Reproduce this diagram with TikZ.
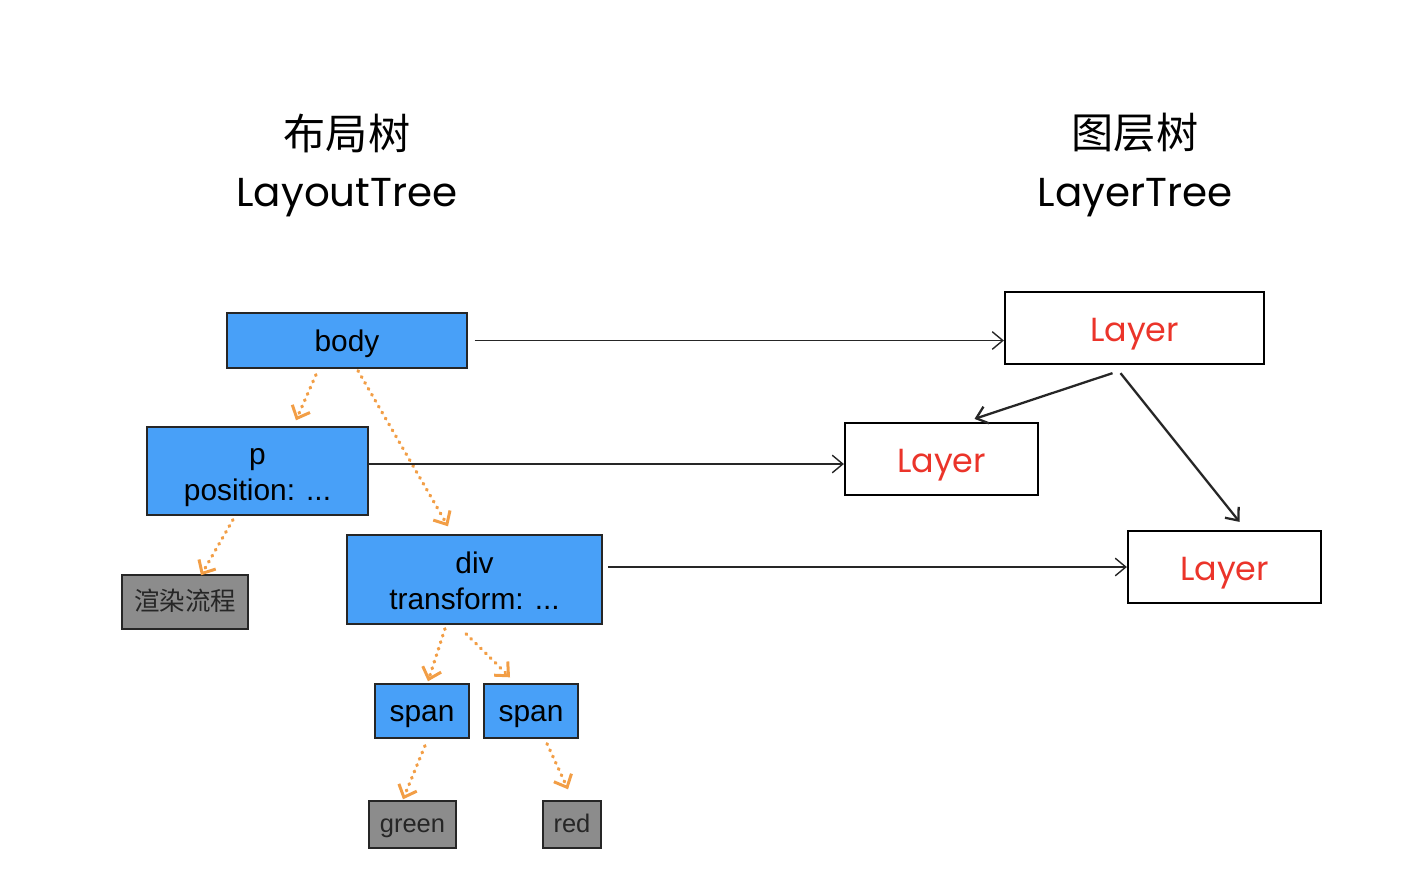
\documentclass[tikz,border=0pt]{standalone}
\usepackage{fontspec}
\setmainfont{Liberation Sans}
\newfontfamily\cjk{Noto Sans CJK SC}
\newfontfamily\hand{Poppins}
\usetikzlibrary{arrows.meta,calc}
\definecolor{tagblue}{RGB}{72,160,248}
\definecolor{leafgray}{RGB}{140,140,140}
\definecolor{linkorange}{RGB}{242,158,70}
\definecolor{layerred}{RGB}{235,52,42}
\begin{document}
\begin{tikzpicture}[
    x=0.02cm, y=-0.02cm,
    tag/.style={
        rectangle,
        inner sep=0pt,
        draw=black!85,
        line width=0.8pt,
        fill=tagblue,
        font=\fontsize{17}{20.4}\selectfont,
        align=center,
        text height=33.7pt,
        text depth=0pt
    },
    oneline/.style={
        text height=12.4pt,
        text depth=0pt
    },
    leaf/.style={
        rectangle,
        inner sep=0pt,
        draw=black!85,
        line width=0.8pt,
        fill=leafgray,
        text=black!85,
        font=\fontsize{14.5}{17}\selectfont,
        align=center,
        text height=9.6pt,
        text depth=0pt
    },
    layer/.style={
        rectangle,
        inner sep=0pt,
        minimum width=3.86cm,
        minimum height=1.44cm,
        draw=black,
        line width=1.3pt,
        fill=white,
        text=layerred,
        font=\hand\fontsize{19}{22}\selectfont,
        text height=15.4pt,
        text depth=0pt
    },
    title/.style={
        font=\hand\fontsize{23}{26}\selectfont,
        align=center
    },
    link/.style={
        -{Straight Barb[length=6pt,width=10pt]},
        line width=0.8pt,
        black!85
    },
    child/.style={
        -{Straight Barb[length=6pt,width=11pt,line width=1.7pt]},
        line width=1.9pt,
        linkorange,
        dash pattern=on 0.5pt off 3.4pt,
        line cap=round
    }
]
\useasboundingbox (0,0) rectangle (1422,870);

% Titles
\node[title] (ltitle) at (347,133) {\cjk\fontsize{24}{26}\selectfont 布局树};
\node[title] (lname) at (347,198) {LayoutTree};
\node[title] (rtitle) at (1135,133) {\cjk\fontsize{24}{26}\selectfont 图层树};
\node[title] (rname) at (1135,198) {LayerTree};

% Layout tree
\node[tag, oneline, minimum width=4.8cm, minimum height=1.1cm] (body) at (347,340.5) {body};
\node[tag, minimum width=4.42cm, minimum height=1.76cm] (p) at (257.5,471) {p\\position: ...};
\node[leaf, minimum width=2.52cm, minimum height=1.08cm] (render) at (185,602) {\cjk 渲染流程};
\node[tag, minimum width=5.1cm, minimum height=1.78cm] (div) at (474.5,579.5) {div\\transform: ...};
\node[tag, oneline, minimum width=1.88cm, minimum height=1.08cm] (span1) at (422,711) {span};
\node[tag, oneline, minimum width=1.88cm, minimum height=1.08cm] (span2) at (531,711) {span};
\node[leaf, minimum width=1.74cm, minimum height=0.94cm] (green) at (412.5,824.5) {green};
\node[leaf, minimum width=1.16cm, minimum height=0.94cm] (red) at (572,824.5) {red};

% Layer tree
\node[layer, minimum width=5.18cm] (layer1) at (1134.5,328) {Layer};
\node[layer] (layer2) at (941.5,459) {Layer};
\node[layer] (layer3) at (1224.5,567) {Layer};

% Tree arrows
\draw[child] ($(body.south)+(-31,6)$) -- ($(p.north)+(38.5,-6)$);
\draw[child] ($(body.south)+(11,2)$) -- ($(div.north)+(-26.5,-8)$);
\draw[child] ($(p.south)+(-24.5,4)$) -- ($(render.north)+(16,1)$);
\draw[child] ($(div.south)+(-29.5,4)$) -- ($(span1.north)+(6,-2)$);
\draw[child] ($(div.south)+(-8.5,9)$) -- ($(span2.north)+(-21,-6)$);
\draw[child] ($(span1.south)+(3,7)$) -- ($(green.north)+(-9.5,-1)$);
\draw[child] ($(span2.south)+(16,5)$) -- ($(red.north)+(-4,-11)$);

% Layout to layer
\draw[link, shorten <=4] (body.east) -- (body.east -| layer1.west);
\draw[link] ($(p.east)+(0,-7)$) -- ($(p.east -| layer2.west)+(0,-7)$);
\draw[link, shorten <=3] (div.east |- layer3.west) -- (layer3.west);

% Layer arrows
\draw[link, line width=1.3pt] ($(layer1.south)+(-22,8)$) -- ($(layer2.north)+(33,-3)$);
\draw[link, line width=1.3pt] ($(layer1.south)+(-14,8)$) -- ($(layer3.north)+(15,-8)$);

\end{tikzpicture}
\end{document}
